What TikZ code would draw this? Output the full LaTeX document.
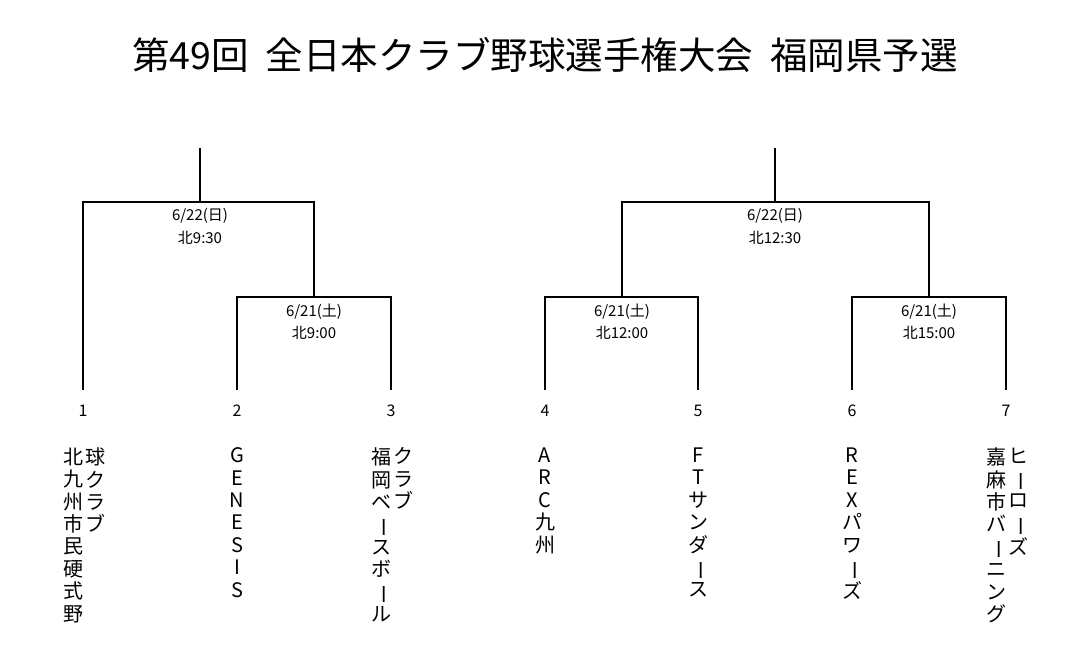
\documentclass[tikz,border=0pt]{standalone}
\usepackage{fontspec}
\usepackage{graphicx}
\setmainfont{Noto Sans CJK JP}
\newcommand{\vl}{\rotatebox[origin=c]{-90}{ー}}
\begin{document}
\begin{tikzpicture}[x=1pt,y=-1pt,line width=1.6pt,
  lbl/.style={font=\fontsize{15}{17}\selectfont,inner sep=0},
  num/.style={font=\fontsize{16}{17}\selectfont,inner sep=0},
  team/.style={font=\fontsize{20}{22.4}\selectfont,inner sep=0,anchor=north,align=center}]
\useasboundingbox (0,0) rectangle (1090,671);
\node[font=\fontsize{37.5}{40}\selectfont] (title) at (545,55) {第49回\ \ 全日本クラブ野球選手権大会\ \ 福岡県予選};
% left bracket
\coordinate (t1) at (200,148);
\draw (t1) -- (200,202);
\draw (83,390) |- (314,202) |- (237,297) -- (237,390);
\draw (314,297) -| (391,390);
% right bracket
\coordinate (t2) at (775,148);
\draw (t2) -- (775,202);
\draw (622,297) |- (929,202) -- (929,297);
\draw (545,390) |- (698,297) -- (698,390);
\draw (852,390) |- (1006,297) -- (1006,390);
% labels
\node[lbl] (a1) at (200,216) {6/22(日)};
\node[lbl] (a2) at (200,238) {北9:30};
\node[lbl] (b1) at (314,312) {6/21(土)};
\node[lbl] (b2) at (314,333) {北9:00};
\node[lbl] (c1) at (775,216) {6/22(日)};
\node[lbl] (c2) at (775,238) {北12:30};
\node[lbl] (d1) at (622,312) {6/21(土)};
\node[lbl] (d2) at (622,333) {北12:00};
\node[lbl] (e1) at (929,312) {6/21(土)};
\node[lbl] (e2) at (929,333) {北15:00};
% numbers
\foreach \n/\x in {1/83,2/237,3/391,4/545,5/698,6/852,7/1006}
  \node[num] (n\n) at (\x,411) {\n};
% teams
\node[team] (t1a) at (73,447) {北\\九\\州\\市\\民\\硬\\式\\野};
\node[team] (t1b) at (95,447) {球\\ク\\ラ\\ブ};
\node[team] (t2a) at (237,447) {G\\E\\N\\E\\S\\I\\S};
\node[team] (t3a) at (381,447) {福\\岡\\ベ\\\vl\\ス\\ボ\\\vl\\ル};
\node[team] (t3b) at (403,447) {ク\\ラ\\ブ};
\node[team] (t4a) at (545,447) {A\\R\\C\\九\\州};
\node[team] (t5a) at (698,447) {F\\T\\サ\\ン\\ダ\\\vl\\ス};
\node[team] (t6a) at (852,447) {R\\E\\X\\パ\\ワ\\\vl\\ズ};
\node[team] (t7a) at (996,447) {嘉\\麻\\市\\バ\\\vl\\ニ\\ン\\グ};
\node[team] (t7b) at (1018,447) {ヒ\\\vl\\ロ\\\vl\\ズ};
\end{tikzpicture}
\end{document}
